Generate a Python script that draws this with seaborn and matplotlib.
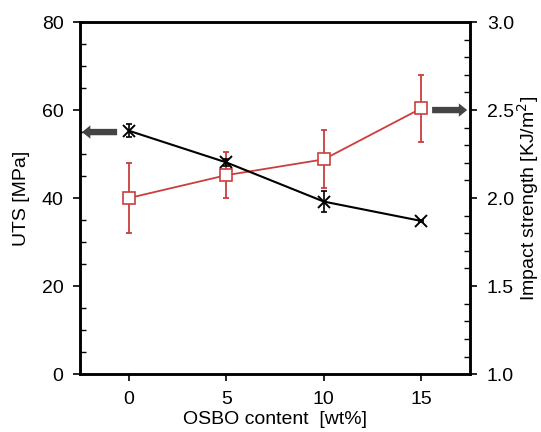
import matplotlib
matplotlib.use("Agg")
import matplotlib.pyplot as plt
import seaborn as sns
import pandas as pd
from matplotlib.ticker import MultipleLocator

osbo = [0, 5, 10, 15]
uts = [55.3, 48.1, 39.2, 34.8]
uts_err = [1.5, 0.8, 2.4, 0.3]
impact = [2.00, 2.13, 2.22, 2.51]
impact_err = [0.20, 0.13, 0.165, 0.19]

sns.set_style("ticks")
plt.rcParams['font.family'] = ['Liberation Sans', 'DejaVu Sans']
plt.rcParams['font.size'] = 14
plt.rcParams['text.color'] = 'black'
plt.rcParams['axes.labelcolor'] = 'black'
plt.rcParams['xtick.color'] = 'black'
plt.rcParams['ytick.color'] = 'black'

df = pd.DataFrame({"osbo": osbo, "uts": uts, "impact": impact})

fig = plt.figure(figsize=(5.41, 4.32), dpi=100)
ax = fig.add_axes([0.148, 0.134, 0.721, 0.815])
ax2 = ax.twinx()

red = "#cc3d3d"
ax2.errorbar(osbo, impact, yerr=impact_err, fmt="none", ecolor=red, elinewidth=1.3,
             capsize=2.5, capthick=1.3, zorder=2)
sns.lineplot(data=df, x="osbo", y="impact", ax=ax2, color=red, lw=1.3,
             marker="s", markersize=9, markerfacecolor="white",
             markeredgecolor=red, markeredgewidth=1.2, zorder=3)

ax.errorbar(osbo, uts, yerr=uts_err, fmt="none", ecolor="black", elinewidth=1.2,
            capsize=2.5, capthick=1.2, zorder=2)
sns.lineplot(data=df, x="osbo", y="uts", ax=ax, color="black", lw=1.5,
             marker="x", markersize=8, markeredgewidth=1.4, markeredgecolor="black",
             zorder=3)

ax.set_zorder(ax2.get_zorder() + 1)
ax.patch.set_visible(False)

ax.set_xlim(-2.5, 17.5)
ax.set_ylim(0, 80)
ax2.set_ylim(1.0, 3.0)
ax.set_xticks([0, 5, 10, 15])
ax.set_yticks([0, 20, 40, 60, 80])
ax2.set_yticks([1.0, 1.5, 2.0, 2.5, 3.0])
ax2.set_yticklabels(["1.0", "1.5", "2.0", "2.5", "3.0"])
ax.yaxis.set_minor_locator(MultipleLocator(5))
ax2.yaxis.set_minor_locator(MultipleLocator(0.1))

ax.tick_params(axis="both", which="major", direction="out", length=5, width=1.2,
               labelsize=14, pad=7)
ax.tick_params(axis="y", which="minor", direction="in", length=4, width=1)
ax2.tick_params(axis="y", which="major", direction="out", length=5, width=1.2,
                labelsize=14, pad=7)
ax2.tick_params(axis="y", which="minor", direction="in", length=4, width=1)

for a in (ax, ax2):
    for s in a.spines.values():
        s.set_linewidth(1.8)
        s.set_color("black")
        s.set_visible(True)

ax.set_xlabel("OSBO content  [wt%]", fontsize=14, labelpad=2)
ax.set_ylabel("UTS [MPa]", fontsize=14, labelpad=8)
ax2.set_ylabel("Impact strength [KJ/m$^2$]", fontsize=14, labelpad=1)

arrow_style = "simple,head_length=0.3,head_width=0.48,tail_width=0.23"
ax.annotate("", xy=(-2.4, 55), xytext=(-0.6, 55),
            arrowprops=dict(arrowstyle=arrow_style, color="#444444", lw=0,
                            shrinkA=0, shrinkB=0, mutation_scale=20))
ax2.annotate("", xy=(17.35, 2.5), xytext=(15.55, 2.5),
             arrowprops=dict(arrowstyle=arrow_style, color="#444444", lw=0,
                             shrinkA=0, shrinkB=0, mutation_scale=20))

fig.savefig("out.png", dpi=100)
